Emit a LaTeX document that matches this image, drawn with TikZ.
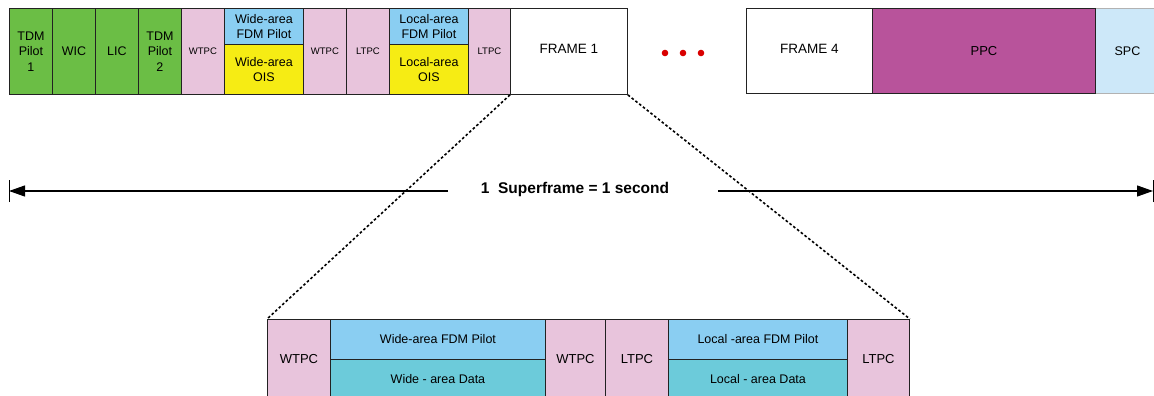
\documentclass[tikz,border=0pt]{standalone}
\usepackage{fontspec}
\setmainfont{Liberation Sans}
\usetikzlibrary{arrows.meta}
\definecolor{cgreen}{HTML}{6BBE45}
\definecolor{cpink}{HTML}{E8C4DC}
\definecolor{cpilot}{HTML}{8ACEF2}
\definecolor{cyellow}{HTML}{F6EC14}
\definecolor{cppc}{HTML}{B8539B}
\definecolor{cspc}{HTML}{CDE8F9}
\definecolor{cdata}{HTML}{6CCBDA}
\definecolor{cline}{HTML}{222222}
\tikzset{
  cell/.style={draw=cline, line width=0.9pt, anchor=north west, inner sep=0pt,
    align=center, text=black},
  fs/.style={font=\fontsize{#1}{15.5}\selectfont},
  dashline/.style={line width=1.6pt, dash pattern=on 2.6pt off 2.2pt},
  spanline/.style={line width=1.1pt},
}
\begin{document}
\begin{tikzpicture}[x=1pt,y=-1pt]
\useasboundingbox (0,0) rectangle (1154,396);
% top row
\node[cell, fill=cgreen, minimum width=43pt, minimum height=86pt, fs=12.5] (tdm1) at (9,8) {TDM\\Pilot\\1};
\node[cell, fill=cgreen, minimum width=43pt, minimum height=86pt, fs=12.5] (wic) at (52,8) {WIC};
\node[cell, fill=cgreen, minimum width=43pt, minimum height=86pt, fs=12.5] (lic) at (95,8) {LIC};
\node[cell, fill=cgreen, minimum width=43pt, minimum height=86pt, fs=12.5] (tdm2) at (138,8) {TDM\\Pilot\\2};
\node[cell, fill=cpink, minimum width=43pt, minimum height=86pt, fs=9.5] (wtpc1) at (181,8) {WTPC};
\node[cell, fill=cpilot, minimum width=79pt, minimum height=36pt, fs=12.5] (wfdm) at (224,8) {Wide-area\\FDM Pilot};
\node[cell, fill=cyellow, minimum width=79pt, minimum height=50pt, fs=12.5] (wois) at (224,44) {Wide-area\\OIS};
\node[cell, fill=cpink, minimum width=43pt, minimum height=86pt, fs=9.5] (wtpc2) at (303,8) {WTPC};
\node[cell, fill=cpink, minimum width=43pt, minimum height=86pt, fs=9.5] (ltpc1) at (346,8) {LTPC};
\node[cell, fill=cpilot, minimum width=79pt, minimum height=36pt, fs=12.5] (lfdm) at (389,8) {Local-area\\FDM Pilot};
\node[cell, fill=cyellow, minimum width=79pt, minimum height=50pt, fs=12.5] (lois) at (389,44) {Local-area\\OIS};
\node[cell, fill=cpink, minimum width=42pt, minimum height=86pt, fs=9.5] (ltpc2) at (468,8) {LTPC};
\node[cell, fill=white, minimum width=117pt, minimum height=86pt, fs=13.5] (frame1) at (510,8) {\raisebox{5pt}{FRAME 1}};
% dots
\fill[red!85!black] (665,53) circle (3.3pt) (683,53) circle (3.3pt) (701,53) circle (3.3pt);
\node[cell, fill=white, minimum width=126pt, minimum height=85pt, fs=13.5] (frame4) at (746,8) {\raisebox{5pt}{FRAME 4}};
\node[cell, fill=cppc, minimum width=223pt, minimum height=85pt, fs=13] (ppc) at (872,8) {PPC};
\node[cell, fill=cspc, draw=gray!60, minimum width=64pt, minimum height=85pt, fs=12.5] (spc) at (1095,8) {SPC};
\draw[cline, line width=0.9pt] (spc.north west) -- (spc.south west);
% span arrow
\node[font=\bfseries\fontsize{15.5}{18}\selectfont, inner xsep=0pt] (sf) at (575,189) {1\ \ Superframe = 1 second};
\coordinate (lend) at (9,191);
\coordinate (rend) at (1153,191);
\coordinate (lgap) at (448,191);
\coordinate (rgap) at (718,191);
\draw[spanline, -{Triangle[length=16pt,width=11pt]}] (lgap) -- (lend);
\draw[spanline, -{Triangle[length=16pt,width=11pt]}] (rgap) -- (rend);
\draw[line width=0.9pt] ([yshift=-11pt]lend) -- ([yshift=11pt]lend);
\draw[line width=0.9pt] ([yshift=-11pt]rend) -- ([yshift=11pt]rend);
% bottom row
\node[cell, fill=cpink, minimum width=63pt, minimum height=79pt, fs=13] (bwtpc1) at (267,319) {WTPC};
\node[cell, fill=cpilot, minimum width=215pt, minimum height=40pt, fs=12.5] (bwfdm) at (330,319) {Wide-area FDM Pilot};
\node[cell, fill=cdata, minimum width=215pt, minimum height=39pt, fs=12.5] (bwdata) at (330,359) {Wide - area Data};
\node[cell, fill=cpink, minimum width=60pt, minimum height=79pt, fs=13] (bwtpc2) at (545,319) {WTPC};
\node[cell, fill=cpink, minimum width=63pt, minimum height=79pt, fs=13] (bltpc1) at (605,319) {LTPC};
\node[cell, fill=cpilot, minimum width=179pt, minimum height=40pt, fs=12.5] (blfdm) at (668,319) {Local -area FDM Pilot};
\node[cell, fill=cdata, minimum width=179pt, minimum height=39pt, fs=12.5] (bldata) at (668,359) {Local - area Data};
\node[cell, fill=cpink, minimum width=62pt, minimum height=79pt, fs=13] (bltpc2) at (847,319) {LTPC};
% zoom lines
\draw[dashline] (frame1.south west) -- (bwtpc1.north west);
\draw[dashline] (frame1.south east) -- (bltpc2.north east);
\end{tikzpicture}
\end{document}
